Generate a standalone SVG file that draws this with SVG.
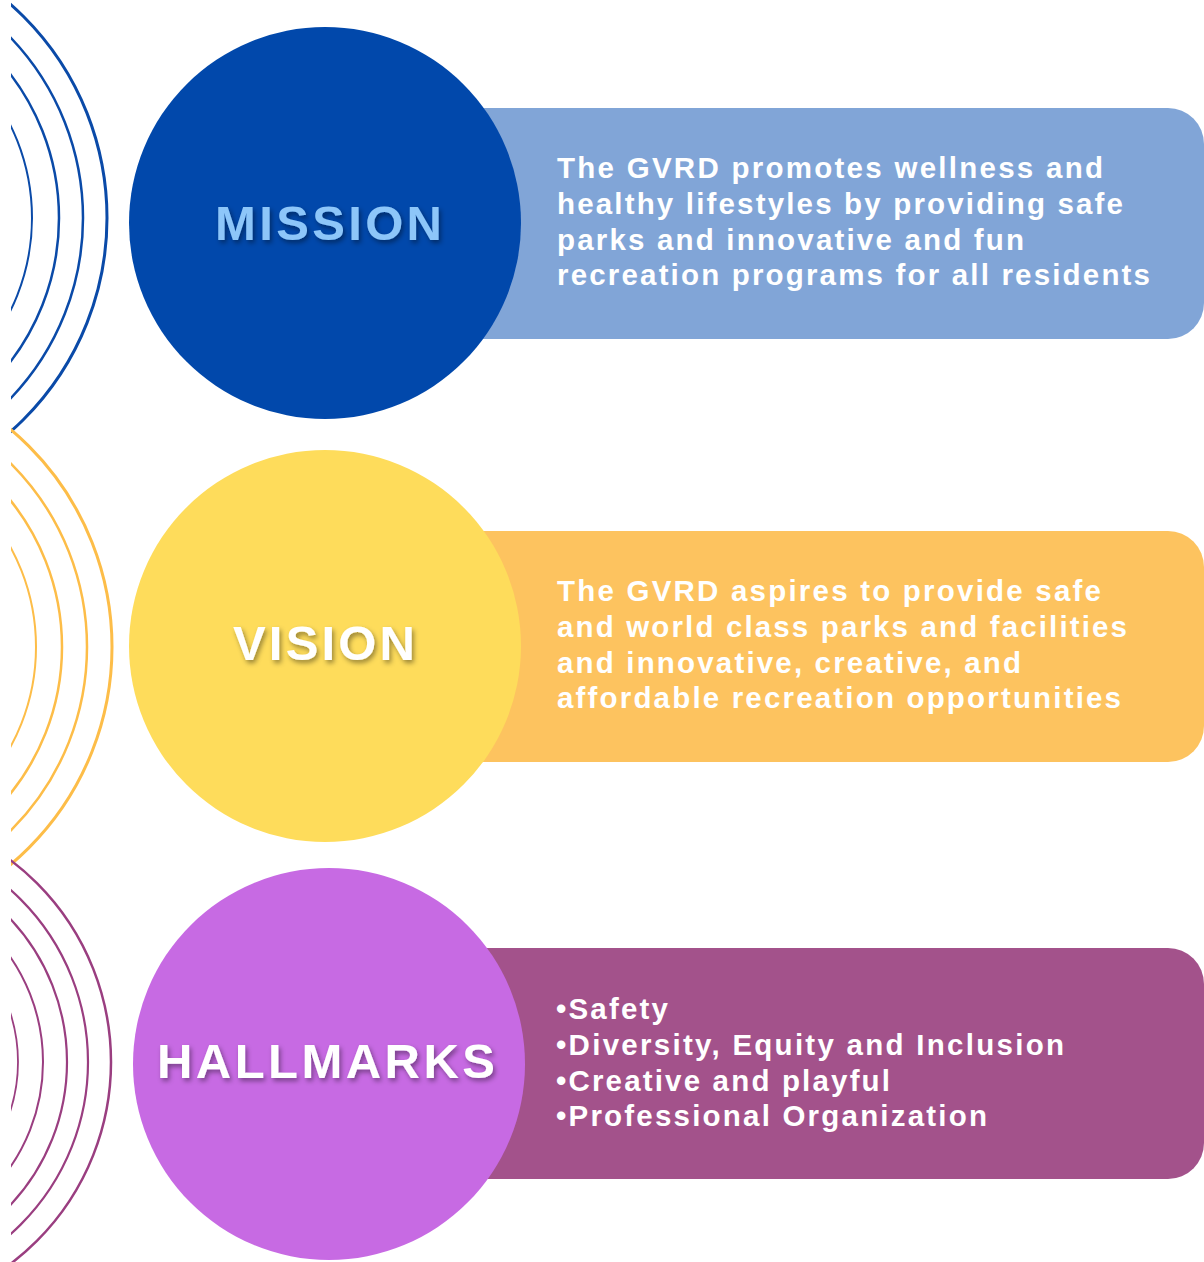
<svg xmlns="http://www.w3.org/2000/svg" width="1204" height="1262" viewBox="0 0 1204 1262">
<defs>
  <clipPath id="leftClip"><rect x="11" y="0" width="1193" height="1262"/></clipPath>
  <filter id="shadow" x="-20%" y="-40%" width="140%" height="180%">
    <feDropShadow dx="2" dy="3" stdDeviation="2.5" flood-color="#000000" flood-opacity="0.4"/>
  </filter>
</defs>
<style>
  .title { font-family: "Liberation Sans", Arial, sans-serif; font-weight: bold; font-size: 49px; }
  .body { font-family: "Liberation Sans", Arial, sans-serif; font-weight: bold; font-size: 29.5px; fill: #ffffff; }
  .arc { fill: none; }
</style>
<rect width="1204" height="1262" fill="#ffffff"/>

<g id="arcs" clip-path="url(#leftClip)">
  <g id="arcs-blue" stroke="#0A4AA8" class="arc">
    <circle cx="-178" cy="218" r="285" stroke-width="3" fill="none"/>
    <circle cx="-178" cy="218" r="261" stroke-width="2.5" fill="none"/>
    <circle cx="-178" cy="218" r="237" stroke-width="2.5" fill="none"/>
    <circle cx="-178" cy="218" r="210" stroke-width="2" fill="none"/>
  </g>
  <g id="arcs-yellow" stroke="#FDBD48" class="arc">
    <circle cx="-172" cy="647" r="284" stroke-width="3" fill="none"/>
    <circle cx="-172" cy="647" r="259" stroke-width="2.5" fill="none"/>
    <circle cx="-172" cy="647" r="234" stroke-width="2.5" fill="none"/>
    <circle cx="-172" cy="647" r="208" stroke-width="2" fill="none"/>
  </g>
  <g id="arcs-purple" stroke="#9A3E80" class="arc">
    <circle cx="-142" cy="1062" r="253" stroke-width="2.5" fill="none"/>
    <circle cx="-142" cy="1062" r="230" stroke-width="2.2" fill="none"/>
    <circle cx="-142" cy="1062" r="209" stroke-width="2.2" fill="none"/>
    <circle cx="-142" cy="1062" r="185" stroke-width="2" fill="none"/>
    <circle cx="-142" cy="1062" r="160" stroke-width="1.8" fill="none"/>
  </g>
</g>

<g id="mission">
  <rect x="440" y="108" width="764" height="231" rx="36" fill="#81A5D7"/>
  <circle cx="325" cy="223" r="196" fill="#0148AB"/>
  <text class="title" x="215" y="240" textLength="227" lengthAdjust="spacing" fill="#8DC6F9" filter="url(#shadow)">MISSION</text>
  <text class="body" x="557" y="178" textLength="546" lengthAdjust="spacing">The GVRD promotes wellness and</text>
  <text class="body" x="557" y="214" textLength="566" lengthAdjust="spacing">healthy lifestyles by providing safe</text>
  <text class="body" x="557" y="250" textLength="467" lengthAdjust="spacing">parks and innovative and fun</text>
  <text class="body" x="557" y="285" textLength="593" lengthAdjust="spacing">recreation programs for all residents</text>
</g>

<g id="vision">
  <rect x="440" y="531" width="764" height="231" rx="36" fill="#FDC35F"/>
  <circle cx="325" cy="646" r="196" fill="#FEDC5B"/>
  <text class="title" x="233" y="660" textLength="182" lengthAdjust="spacing" fill="#ffffff" filter="url(#shadow)">VISION</text>
  <text class="body" x="557" y="601" textLength="544" lengthAdjust="spacing">The GVRD aspires to provide safe</text>
  <text class="body" x="557" y="637" textLength="570" lengthAdjust="spacing">and world class parks and facilities</text>
  <text class="body" x="557" y="673" textLength="464" lengthAdjust="spacing">and innovative, creative, and</text>
  <text class="body" x="557" y="708" textLength="564" lengthAdjust="spacing">affordable recreation opportunities</text>
</g>

<g id="hallmarks">
  <rect x="440" y="948" width="764" height="231" rx="36" fill="#A3528B"/>
  <circle cx="329" cy="1064" r="196" fill="#C76AE3"/>
  <text class="title" x="157" y="1078" textLength="338" lengthAdjust="spacing" fill="#ffffff" filter="url(#shadow)">HALLMARKS</text>
  <text class="body" x="556" y="1019" textLength="112" lengthAdjust="spacing">•Safety</text>
  <text class="body" x="556" y="1055" textLength="508" lengthAdjust="spacing">•Diversity, Equity and Inclusion</text>
  <text class="body" x="556" y="1091" textLength="334" lengthAdjust="spacing">•Creative and playful</text>
  <text class="body" x="556" y="1126" textLength="431" lengthAdjust="spacing">•Professional Organization</text>
</g>
</svg>
